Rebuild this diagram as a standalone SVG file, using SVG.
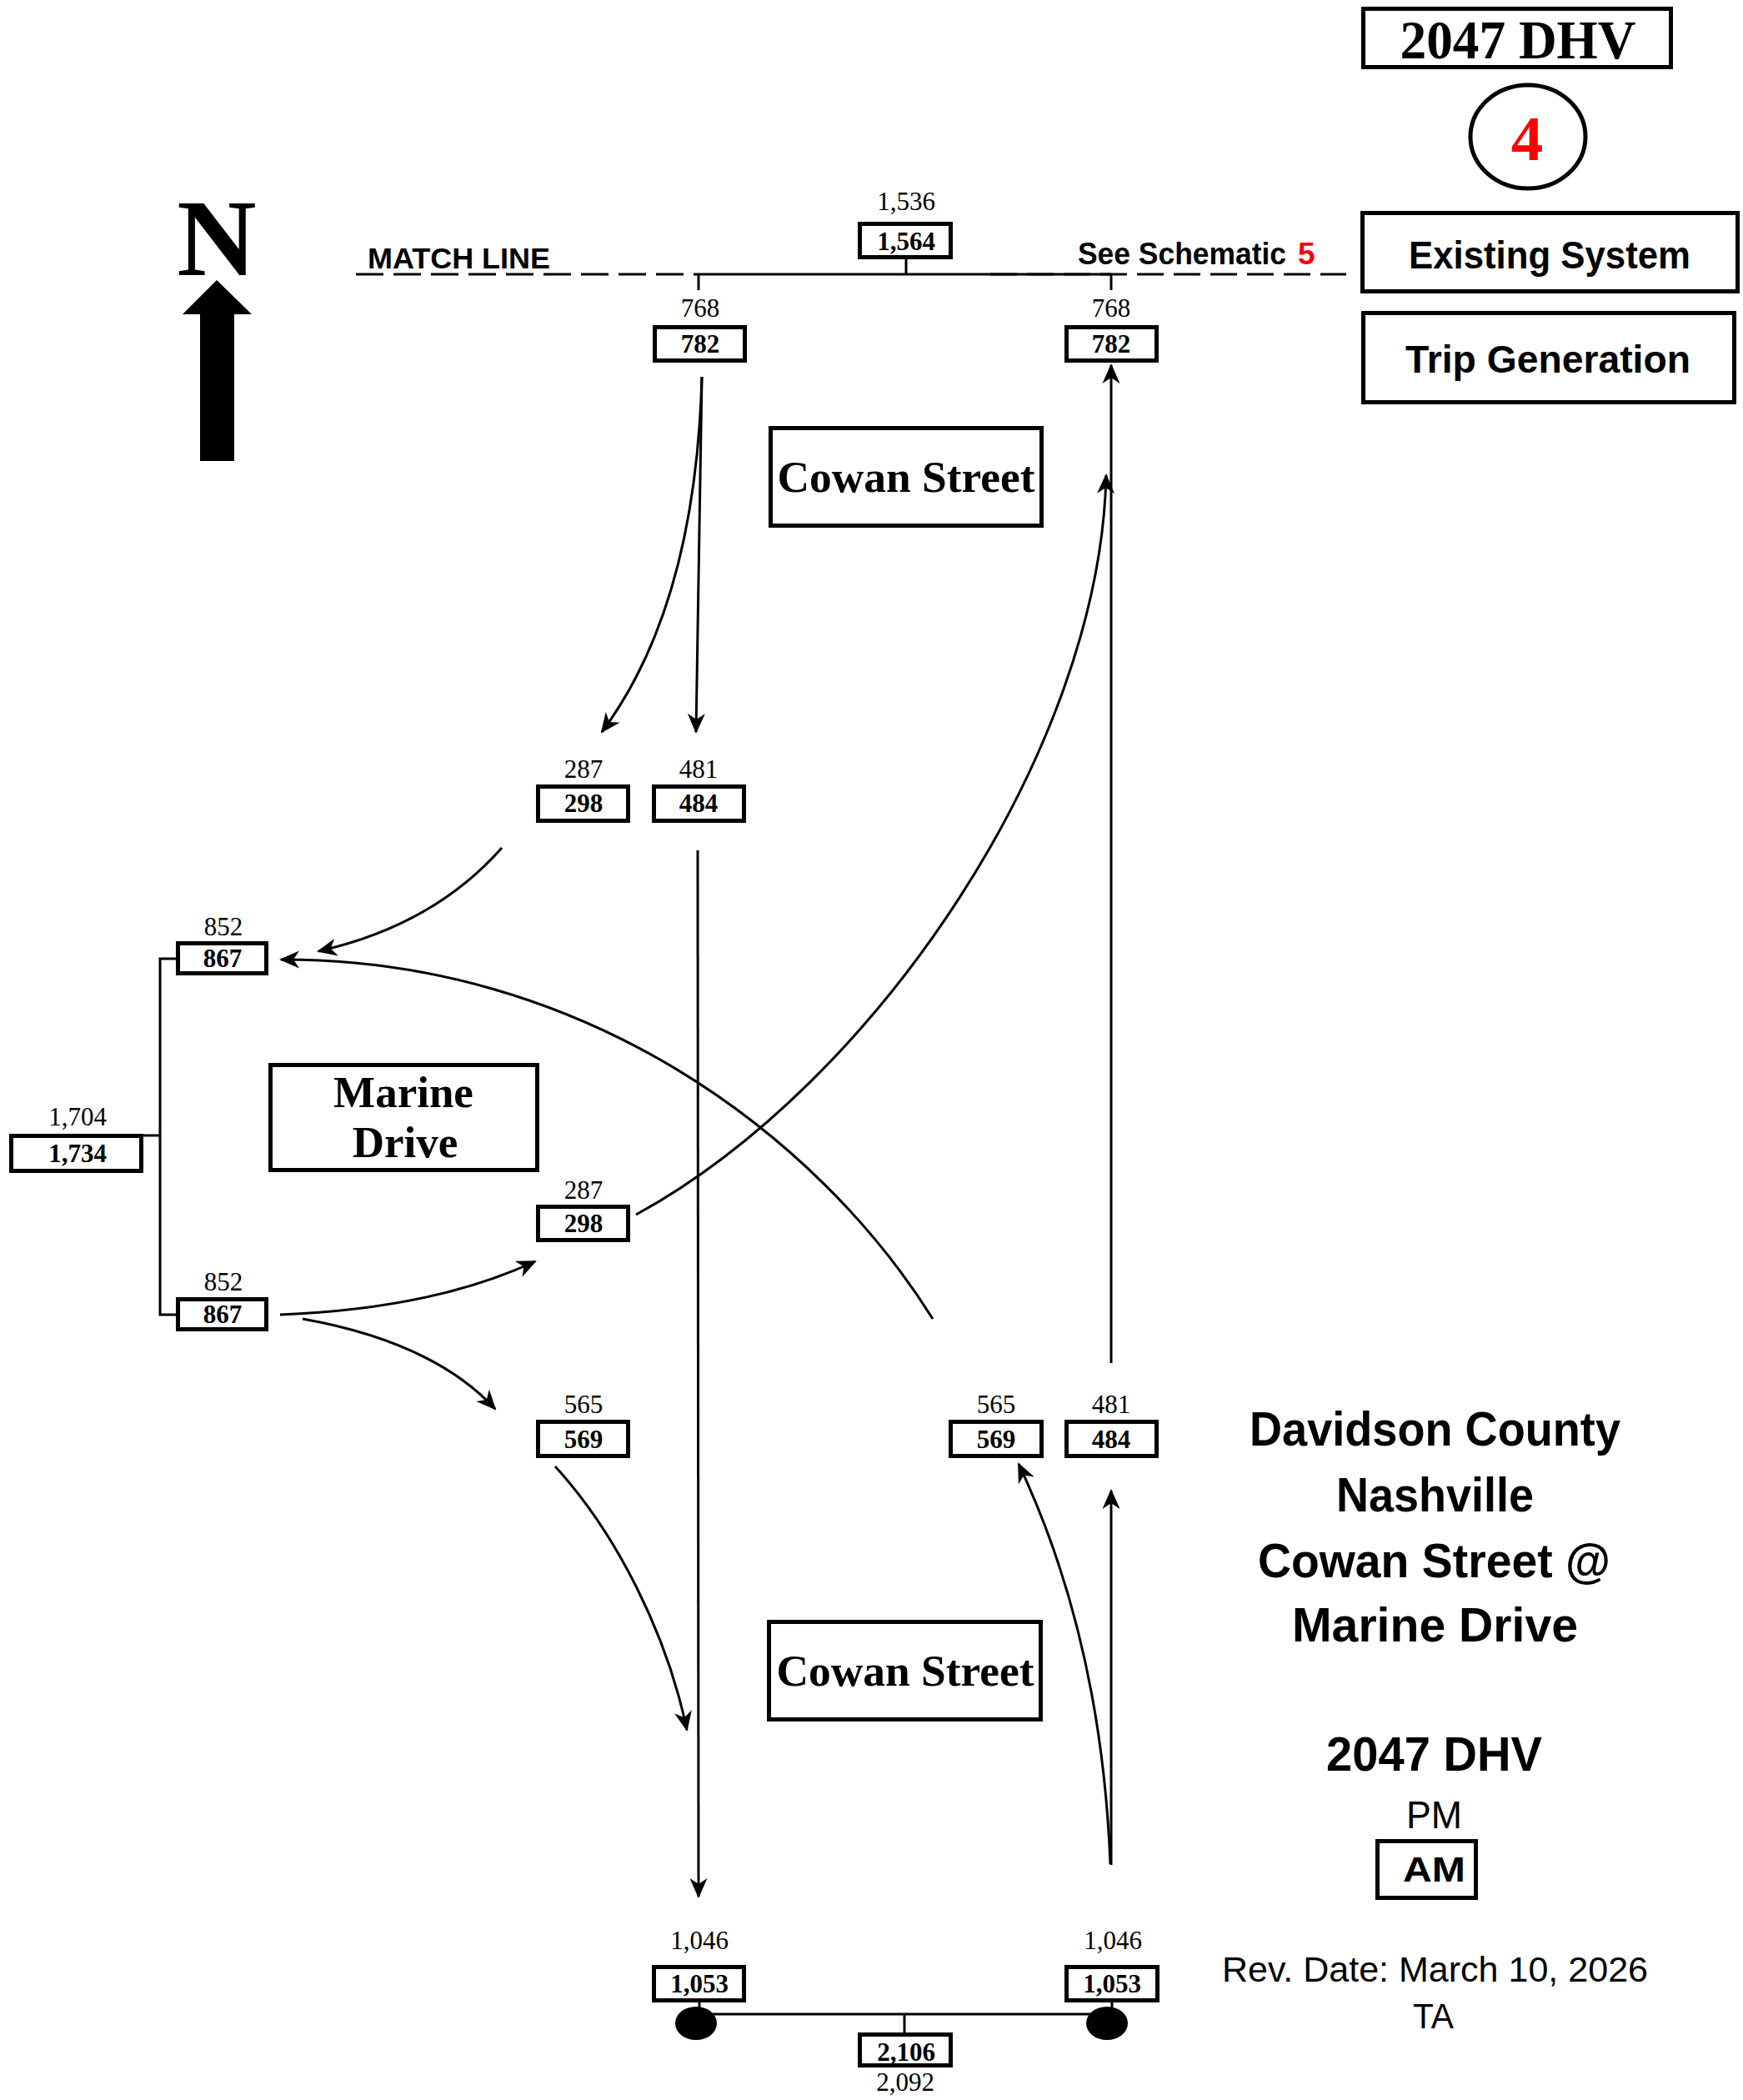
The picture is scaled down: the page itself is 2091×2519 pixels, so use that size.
<svg xmlns="http://www.w3.org/2000/svg" width="2091" height="2519" viewBox="0 0 2091 2519">
<style>
.bx{fill:#fff;stroke:#000;stroke-width:5}
.bigbx{fill:#fff;stroke:#000;stroke-width:5}
.num{font-family:"Liberation Serif","Times New Roman",serif;font-size:31px;text-anchor:middle;fill:#000}
.numb{font-family:"Liberation Serif","Times New Roman",serif;font-size:31px;font-weight:bold;text-anchor:middle;fill:#000}
.tb{font-family:"Liberation Serif","Times New Roman",serif;font-weight:bold;fill:#000}
.sb{font-family:"Liberation Sans",Arial,sans-serif;font-weight:bold;fill:#000}
.sr{font-family:"Liberation Sans",Arial,sans-serif;fill:#000}
.ln{fill:none;stroke:#000;stroke-width:3}
.ar{fill:none;stroke:#000;stroke-width:3;marker-end:url(#ah)}
</style>
<defs>
<marker id="ah" markerUnits="userSpaceOnUse" viewBox="0 0 26 22" markerWidth="26" markerHeight="22" refX="23" refY="11" orient="auto">
<path d="M25,11 L1,0.5 L8,11 L1,21.5 Z" fill="#000"/>
</marker>
</defs>

<g id="title">
<rect class="bigbx" x="1635.5" y="10.5" width="369" height="70"/>
<text class="tb" x="1821" y="70" font-size="66" text-anchor="middle" textLength="283" lengthAdjust="spacingAndGlyphs">2047 DHV</text>
<ellipse cx="1833" cy="164" rx="69" ry="62" fill="#fff" stroke="#000" stroke-width="5"/>
<text class="tb" x="1832" y="192" font-size="77" text-anchor="middle" fill="#ff0000" style="fill:#ff0000">4</text>
</g>
<g id="existing-system">
<rect class="bigbx" x="1634.5" y="255.5" width="450" height="94"/>
<text class="sb" x="1690" y="322" font-size="47" textLength="338" lengthAdjust="spacingAndGlyphs">Existing System</text>
</g>
<g id="trip-generation">
<rect class="bigbx" x="1635.5" y="375.5" width="445" height="107"/>
<text class="sb" x="1686" y="447" font-size="46" textLength="342" lengthAdjust="spacingAndGlyphs">Trip Generation</text>
</g>

<g id="north-arrow">
<text class="tb" x="260" y="330" font-size="132" text-anchor="middle">N</text>
<polygon points="260,336 302,377 281,377 281,553 240,553 240,377 219,377" fill="#000"/>
</g>

<g id="match-line">
<text class="sb" x="441" y="322" font-size="35" textLength="219" lengthAdjust="spacingAndGlyphs">MATCH LINE</text>
<line x1="427" y1="329" x2="838" y2="329" stroke="#000" stroke-width="3" stroke-dasharray="33,12"/>
<line x1="1188" y1="329" x2="1615" y2="329" stroke="#000" stroke-width="3" stroke-dasharray="32,12"/>
<text class="sb" x="1293" y="317" font-size="37" textLength="250" lengthAdjust="spacingAndGlyphs">See Schematic</text>
<text class="sb" x="1557" y="317" font-size="37" fill="#ff0000" style="fill:#ff0000">5</text>
</g>

<g id="cowan-street-north">
<rect class="bigbx" x="924.5" y="513.5" width="325" height="117"/>
<text class="tb" x="1087" y="590" font-size="53" text-anchor="middle" textLength="309" lengthAdjust="spacingAndGlyphs">Cowan Street</text>
</g>
<g id="cowan-street-south">
<rect class="bigbx" x="922.5" y="1945.5" width="326" height="117"/>
<text class="tb" x="1086" y="2022" font-size="53" text-anchor="middle" textLength="309" lengthAdjust="spacingAndGlyphs">Cowan Street</text>
</g>
<g id="marine-drive">
<rect class="bigbx" x="324.5" y="1277.5" width="320" height="126"/>
<text class="tb" x="484" y="1328" font-size="53" text-anchor="middle">Marine</text>
<text class="tb" x="486" y="1388" font-size="53" text-anchor="middle">Drive</text>
</g>

<g id="connectors">
<line class="ln" x1="838" y1="329" x2="1333" y2="329"/>
<path class="ln" d="M838,329 L838,348"/>
<path class="ln" d="M1333,329 L1333,348"/>
<path class="ln" d="M1087,311 L1087,329"/>
<path class="ln" d="M211,1150 L192,1150 L192,1577 L211,1577"/>
<path class="ln" d="M172,1362 L192,1362"/>
<path class="ar" d="M842,452 C838,600 810,760 722,878"/>
<path class="ar" d="M842,452 L835,878"/>
<path class="ar" d="M602,1017 Q520,1110 382,1141"/>
<path class="ar" d="M1119,1582 C980,1360 700,1150 337,1151"/>
<path class="ar" d="M763,1457 C1050,1300 1320,900 1327,570"/>
<path class="ar" d="M336,1577 Q520,1570 642,1513"/>
<path class="ar" d="M363,1582 Q520,1610 594,1690"/>
<path class="ar" d="M837,1020 L838,2275"/>
<path class="ar" d="M666,1759 C740,1840 800,1960 824,2075"/>
<path class="ar" d="M1333,1635 L1333,438"/>
<path class="ar" d="M1332,2236 C1325,2060 1290,1900 1222,1756"/>
<path class="ar" d="M1333,2237 L1333,1788"/>
<path class="ln" d="M839,2402 L839,2420"/>
<path class="ln" d="M1334,2402 L1334,2420"/>
<line class="ln" x1="835" y1="2416" x2="1328" y2="2416"/>
<path class="ln" d="M1085,2416 L1085,2438"/>
</g>

<g id="v-1564">
<text class="num" x="1087" y="252">1,536</text>
<rect class="bx" x="1031.5" y="268.5" width="109" height="40"/>
<text class="numb" x="1087" y="300">1,564</text>
</g>
<g id="v-782-left">
<text class="num" x="840" y="380">768</text>
<rect class="bx" x="785.5" y="392.5" width="108" height="40"/>
<text class="numb" x="840" y="423">782</text>
</g>
<g id="v-782-right">
<text class="num" x="1333" y="380">768</text>
<rect class="bx" x="1279.5" y="392.5" width="108" height="40"/>
<text class="numb" x="1333" y="423">782</text>
</g>
<g id="v-298-upper">
<text class="num" x="700" y="933">287</text>
<rect class="bx" x="645.5" y="943.5" width="108" height="41"/>
<text class="numb" x="700" y="974">298</text>
</g>
<g id="v-484-upper">
<text class="num" x="838" y="933">481</text>
<rect class="bx" x="784.5" y="943.5" width="108" height="41"/>
<text class="numb" x="838" y="974">484</text>
</g>
<g id="v-867-top">
<text class="num" x="268" y="1122">852</text>
<rect class="bx" x="213.5" y="1131.5" width="106" height="36"/>
<text class="numb" x="267" y="1160">867</text>
</g>
<g id="v-1734">
<text class="num" x="93" y="1350">1,704</text>
<rect class="bx" x="13.5" y="1362.5" width="156" height="42"/>
<text class="numb" x="93" y="1394">1,734</text>
</g>
<g id="v-298-lower">
<text class="num" x="700" y="1438">287</text>
<rect class="bx" x="645.5" y="1447.5" width="108" height="40"/>
<text class="numb" x="700" y="1478">298</text>
</g>
<g id="v-867-bottom">
<text class="num" x="268" y="1548">852</text>
<rect class="bx" x="213.5" y="1558.5" width="106" height="36"/>
<text class="numb" x="267" y="1587">867</text>
</g>
<g id="v-569-left">
<text class="num" x="700" y="1695">565</text>
<rect class="bx" x="645.5" y="1705.5" width="108" height="41"/>
<text class="numb" x="700" y="1737">569</text>
</g>
<g id="v-569-right">
<text class="num" x="1195" y="1695">565</text>
<rect class="bx" x="1140.5" y="1705.5" width="109" height="41"/>
<text class="numb" x="1195" y="1737">569</text>
</g>
<g id="v-484-right">
<text class="num" x="1333" y="1695">481</text>
<rect class="bx" x="1279.5" y="1705.5" width="108" height="41"/>
<text class="numb" x="1333" y="1737">484</text>
</g>
<g id="v-1053-left">
<text class="num" x="839" y="2338">1,046</text>
<rect class="bx" x="784.5" y="2359.5" width="108" height="40"/>
<text class="numb" x="839" y="2390">1,053</text>
<ellipse cx="835" cy="2427" rx="25" ry="20" fill="#000"/>
</g>
<g id="v-1053-right">
<text class="num" x="1335" y="2338">1,046</text>
<rect class="bx" x="1279.5" y="2359.5" width="109" height="40"/>
<text class="numb" x="1334" y="2390">1,053</text>
<ellipse cx="1328" cy="2427" rx="25" ry="20" fill="#000"/>
</g>
<g id="v-2106">
<rect class="bx" x="1031.5" y="2440.5" width="109" height="37"/>
<text class="numb" x="1087" y="2472">2,106</text>
<text class="num" x="1086" y="2508">2,092</text>
</g>

<g id="legend">
<text class="sb" x="1499" y="1734" font-size="57" textLength="445" lengthAdjust="spacingAndGlyphs">Davidson County</text>
<text class="sb" x="1603" y="1813" font-size="57" textLength="237" lengthAdjust="spacingAndGlyphs">Nashville</text>
<text class="sb" x="1509" y="1892" font-size="57" textLength="423" lengthAdjust="spacingAndGlyphs">Cowan Street @</text>
<text class="sb" x="1550" y="1969" font-size="57" textLength="343" lengthAdjust="spacingAndGlyphs">Marine Drive</text>
<text class="sb" x="1591" y="2124" font-size="57" textLength="259" lengthAdjust="spacingAndGlyphs">2047 DHV</text>
<text class="sr" x="1687" y="2193" font-size="46" textLength="67" lengthAdjust="spacingAndGlyphs">PM</text>
<rect x="1652.5" y="2208.5" width="118" height="68" fill="#fff" stroke="#000" stroke-width="5"/>
<text class="sb" x="1683" y="2257" font-size="43" textLength="75" lengthAdjust="spacingAndGlyphs">AM</text>
<text class="sr" x="1466" y="2377" font-size="43" textLength="511" lengthAdjust="spacingAndGlyphs">Rev. Date: March 10, 2026</text>
<text class="sr" x="1695" y="2433" font-size="43" textLength="49" lengthAdjust="spacingAndGlyphs">TA</text>
</g>
</svg>
